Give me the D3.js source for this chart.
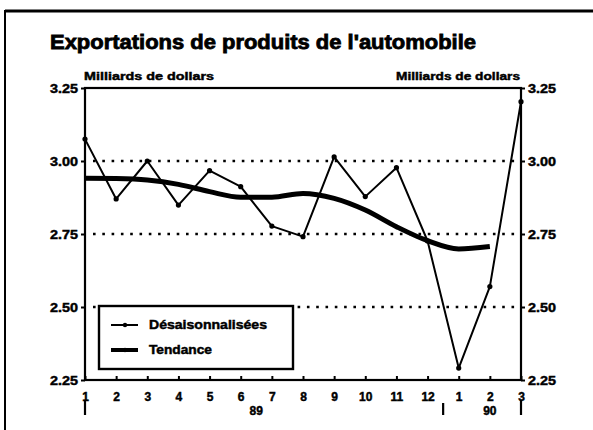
<!DOCTYPE html>
<html>
<head>
<meta charset="utf-8">
<script src="https://cdn.jsdelivr.net/npm/d3@7"></script>
<style>
  body { margin: 0; background: #fff; }
  text { font-family: "Liberation Sans", Arial, Helvetica, sans-serif; font-weight: bold; fill: #000; stroke: #000; stroke-width: 0.45; }
</style>
</head>
<body>
<svg id="chart" width="593" height="430"></svg>
<script>
// month labels, 1989-01 to 1990-03
const months = ["1","2","3","4","5","6","7","8","9","10","11","12","1","2","3"];
const years = [{ label: "89", at: 5.5 }, { label: "90", at: 13 }];
const yearBreaks = [0, 11.5, 14];

// billions of dollars
const seasonal = [3.075, 2.870, 3.000, 2.849, 2.967, 2.912, 2.777, 2.741, 3.014, 2.878, 2.977, 2.726, 2.291, 2.570, 3.203];
const trend = [2.941, 2.940, 2.935, 2.920, 2.895, 2.876, 2.876, 2.889, 2.872, 2.832, 2.775, 2.727, 2.699, 2.707];

const yTicks = [2.25, 2.50, 2.75, 3.00, 3.25];
const gridValues = [2.50, 2.75, 3.00];

const svg = d3.select("#chart");

const plotLeft = 85, plotRight = 521, plotTop = 88, plotBottom = 380;

const x = d3.scaleLinear().domain([0, months.length - 1]).range([plotLeft, plotRight]);
const y = d3.scaleLinear().domain([2.25, 3.25]).range([plotBottom, plotTop]);

// outer frame (top and left only)
svg.append("line").attr("x1", 5).attr("x2", 593).attr("y1", 11).attr("y2", 11)
  .attr("stroke", "#000").attr("stroke-width", 3);
svg.append("line").attr("x1", 5).attr("x2", 5).attr("y1", 10).attr("y2", 430)
  .attr("stroke", "#000").attr("stroke-width", 2);

// title
svg.append("text")
  .attr("x", 50).attr("y", 49)
  .attr("font-size", 20).style("stroke-width", 0.8)
  .attr("textLength", 426).attr("lengthAdjust", "spacingAndGlyphs")
  .text("Exportations de produits de l'automobile");

// units
svg.append("text").attr("x", 84).attr("y", 80).attr("font-size", 11)
  .attr("textLength", 130).attr("lengthAdjust", "spacingAndGlyphs")
  .text("Milliards de dollars");
svg.append("text").attr("x", 520).attr("y", 80).attr("font-size", 11)
  .attr("text-anchor", "end")
  .attr("textLength", 124).attr("lengthAdjust", "spacingAndGlyphs")
  .text("Milliards de dollars");

// dotted gridlines
svg.append("g").selectAll("line")
  .data(gridValues)
  .join("line")
  .attr("x1", plotLeft + 8).attr("x2", plotRight - 2)
  .attr("y1", d => y(d)).attr("y2", d => y(d))
  .attr("stroke", "#000").attr("stroke-width", 2.6)
  .attr("stroke-dasharray", "2.6,6.7");

// y axes
const fmt = d3.format(".2f");
const yLeft = svg.append("g").attr("transform", `translate(${plotLeft},0)`)
  .call(d3.axisLeft(y).tickValues(yTicks).tickSize(4).tickPadding(3).tickFormat(fmt));
const yRight = svg.append("g").attr("transform", `translate(${plotRight},0)`)
  .call(d3.axisRight(y).tickValues(yTicks).tickSize(4).tickPadding(3).tickFormat(fmt));
[yLeft, yRight].forEach(g => {
  g.select(".domain").remove();
  g.selectAll("line").attr("stroke-width", 2);
  g.selectAll("text").attr("font-size", 12.5).attr("font-family", null)
    .attr("textLength", 28).attr("lengthAdjust", "spacingAndGlyphs");
});

// x axis: small inward ticks, month labels below
const xAxis = svg.append("g").attr("transform", `translate(0,${plotBottom})`)
  .call(d3.axisBottom(x).tickValues(d3.range(months.length))
    .tickSizeInner(-4).tickSizeOuter(0).tickPadding(12)
    .tickFormat(i => months[i]));
xAxis.select(".domain").remove();
xAxis.selectAll("line").attr("stroke-width", 2);
xAxis.selectAll("text").attr("font-size", 12).attr("font-family", null);

// year separators
svg.append("g").selectAll("line")
  .data(yearBreaks)
  .join("line")
  .attr("x1", d => x(d)).attr("x2", d => x(d))
  .attr("y1", d => d === 11.5 ? 403 : 400).attr("y2", 415)
  .attr("stroke", "#000").attr("stroke-width", 2.2);

svg.append("g").selectAll("text")
  .data(years)
  .join("text")
  .attr("x", d => x(d.at)).attr("y", 415)
  .attr("text-anchor", "middle").attr("font-size", 12)
  .text(d => d.label);

// plot frame
svg.append("rect")
  .attr("x", plotLeft).attr("y", plotTop)
  .attr("width", plotRight - plotLeft).attr("height", plotBottom - plotTop)
  .attr("fill", "none").attr("stroke", "#000").attr("stroke-width", 2.2);

// trend (thick)
const trendLine = d3.line()
  .x((d, i) => x(i)).y(d => y(d))
  .curve(d3.curveMonotoneX);
svg.append("path")
  .datum(trend)
  .attr("d", trendLine)
  .attr("fill", "none").attr("stroke", "#000")
  .attr("stroke-width", 5).attr("stroke-linejoin", "round");

// seasonally adjusted (thin, with markers)
const seasonalLine = d3.line().x((d, i) => x(i)).y(d => y(d));
svg.append("path")
  .datum(seasonal)
  .attr("d", seasonalLine)
  .attr("fill", "none").attr("stroke", "#000")
  .attr("stroke-width", 2).attr("stroke-linejoin", "round");
svg.append("g").selectAll("circle")
  .data(seasonal)
  .join("circle")
  .attr("cx", (d, i) => x(i)).attr("cy", d => y(d))
  .attr("r", 2.6).attr("fill", "#000");

// legend
const legend = svg.append("g");
legend.append("rect")
  .attr("x", 99).attr("y", 306).attr("width", 194).attr("height", 63)
  .attr("fill", "#fff").attr("stroke", "#000").attr("stroke-width", 2.4);

const legendItems = [
  { label: "Désaisonnalisées", width: 2, textLen: 118 },
  { label: "Tendance", width: 4, textLen: 63 }
];
const ly = d3.scalePoint().domain(legendItems.map(d => d.label)).range([325, 350]);

const item = legend.selectAll("g.item")
  .data(legendItems)
  .join("g").attr("class", "item");
item.append("line")
  .attr("x1", 111).attr("x2", 138)
  .attr("y1", d => ly(d.label)).attr("y2", d => ly(d.label))
  .attr("stroke", "#000").attr("stroke-width", d => d.width);
item.append("circle")
  .attr("cx", 125).attr("cy", d => ly(d.label))
  .attr("r", 2.2).attr("fill", "#000");
item.append("text")
  .attr("x", 149).attr("y", d => ly(d.label) + 4)
  .attr("font-size", 12)
  .attr("textLength", d => d.textLen).attr("lengthAdjust", "spacingAndGlyphs")
  .text(d => d.label);
</script>
</body>
</html>
